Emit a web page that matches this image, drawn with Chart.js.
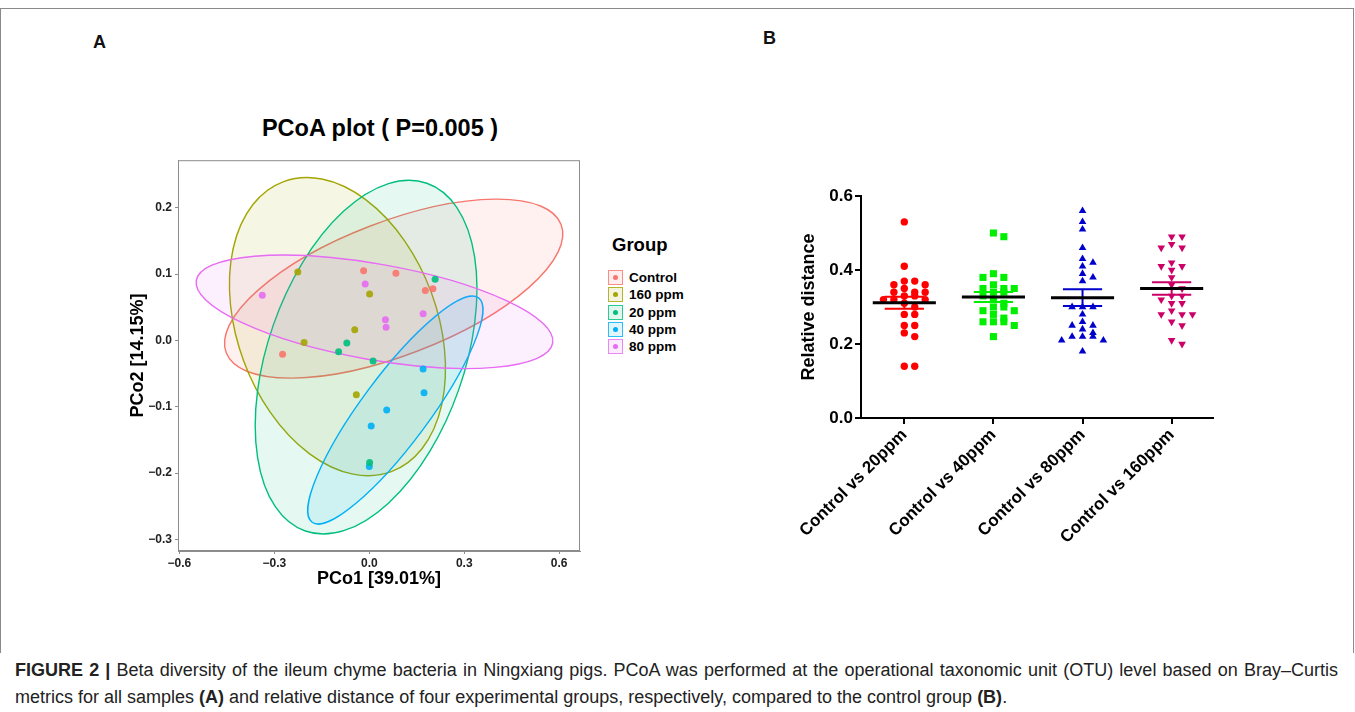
<!DOCTYPE html>
<html lang="en">
<head>
<meta charset="UTF-8">
<title>Figure 2 - Beta diversity</title>
<script src="https://cdn.jsdelivr.net/npm/chart.js"></script>
<style>
    body {
        margin: 0;
        width: 1355px;
        height: 712px;
        background: #fff;
        font-family: 'Liberation Sans', Arial, sans-serif;
        position: relative;
        overflow: hidden;
        color: #111;
    }
    .frame {
        position: absolute;
        left: 0;
        top: 8px;
        width: 1352px;
        height: 644px;
        border: 1px solid #8a8a8a;
        border-bottom: none;
    }
    .panel-label { position: absolute; font-weight: bold; font-size: 18px; }
    #pcoaChart { position: absolute; left: 120px; top: 150px; }
    #distanceChart { position: absolute; left: 770px; top: 180px; }
    .pcoa-title {
        position: absolute;
        left: 230px;
        width: 300px;
        top: 115px;
        text-align: center;
        font-weight: bold;
        font-size: 23.5px;
        line-height: 26px;
        color: #000;
    }
    .legend { position: absolute; left: 608px; top: 234px; }
    .legend-title { font-weight: bold; font-size: 18.5px; margin-left: 4px; margin-bottom: 13px; color: #000; }
    .legend-row { display: flex; align-items: center; height: 17.3px; font-weight: bold; font-size: 13.5px; color: #000; }
    .legend-key {
        width: 13px; height: 13px; margin-right: 6px; position: relative;
        border: 1.5px solid; box-sizing: content-box;
    }
    .legend-key i {
        position: absolute; left: 4px; top: 4px; width: 5px; height: 5px; border-radius: 50%;
    }
    .caption {
        position: absolute;
        left: 15px;
        top: 657px;
        width: 1323px;
        font-size: 18px;
        line-height: 27px;
        color: #222;
        white-space: nowrap;
    }
    .caption .justified { text-align: justify; text-align-last: justify; white-space: normal; }
</style>
</head>
<body>
    <div class="frame"></div>
    <div class="panel-label" style="left:93px; top:32px;">A</div>
    <div class="panel-label" style="left:763px; top:28px;">B</div>

    <div class="pcoa-title">PCoA plot ( P=0.005 )</div>
    <canvas id="pcoaChart" width="470" height="442"></canvas>
    <div class="legend" id="pcoaLegend"></div>

    <canvas id="distanceChart" width="460" height="380"></canvas>

    <div class="caption">
        <div class="justified"><b>FIGURE 2 |</b> Beta diversity of the ileum chyme bacteria in Ningxiang pigs. PCoA was performed at the operational taxonomic unit (OTU) level based on Bray–Curtis</div>
        <div>metrics for all samples <b>(A)</b> and relative distance of four experimental groups, respectively, compared to the control group <b>(B)</b>.</div>
    </div>

<script>
    // ---- panel A: PCoA ----
    const pcoaGroups = ['Control', '160 ppm', '20 ppm', '40 ppm', '80 ppm'];
    const pco1Control = [-0.018, 0.084, 0.177, 0.201, -0.274];
    const pco2Control = [0.105, 0.101, 0.075, 0.078, -0.021];
    const pco1Ppm160 = [-0.226, 0.001, -0.046, -0.206, -0.041];
    const pco2Ppm160 = [0.103, 0.070, 0.016, -0.003, -0.082];
    const pco1Ppm20 = [0.208, -0.071, -0.097, 0.012, 0.001];
    const pco2Ppm20 = [0.092, -0.004, -0.017, -0.031, -0.184];
    const pco1Ppm40 = [0.170, 0.173, 0.055, 0.006, 0.000];
    const pco2Ppm40 = [-0.043, -0.079, -0.105, -0.129, -0.190];
    const pco1Ppm80 = [-0.338, -0.013, 0.051, 0.053, 0.170];
    const pco2Ppm80 = [0.068, 0.085, 0.031, 0.020, 0.040];

    // confidence ellipses: centre and two conjugate semi-axes, in PCo units
    const ellipseCentre = [[0.077, 0.078], [-0.1006, 0.0208], [-0.0101, -0.0252], [0.0823, -0.105], [0.0164, 0.0431]];
    const ellipseAxisA = [[0.529, 0.0967], [0.170, -0.2185], [0.192, 0.262], [0.263, 0.169], [0.563, -0.0473]];
    const ellipseAxisB = [[0.0757, -0.094], [0.296, 0.0521], [0.293, -0.0486], [0.0858, -0.0302], [-0.0263, -0.0711]];

    const pcoaXTicks = [-0.6, -0.3, 0, 0.3, 0.6];
    const pcoaYTicks = [-0.3, -0.2, -0.1, 0, 0.1, 0.2];

    // ---- panel B: relative distance ----
    const distanceCategories = ['Control vs 20ppm', 'Control vs 40ppm', 'Control vs 80ppm', 'Control vs 160ppm'];
    const distVs20 = [0.53, 0.41, 0.37, 0.37, 0.36, 0.36, 0.35, 0.34, 0.34, 0.34, 0.33, 0.33, 0.32, 0.32, 0.32, 0.31, 0.30, 0.28, 0.28, 0.25, 0.25, 0.23, 0.22, 0.14, 0.14];
    const distVs40 = [0.50, 0.49, 0.39, 0.38, 0.38, 0.36, 0.35, 0.35, 0.35, 0.34, 0.34, 0.33, 0.32, 0.31, 0.30, 0.30, 0.29, 0.29, 0.28, 0.27, 0.26, 0.26, 0.26, 0.25, 0.22];
    const distVs80 = [0.56, 0.53, 0.51, 0.46, 0.43, 0.42, 0.41, 0.39, 0.38, 0.37, 0.30, 0.30, 0.30, 0.28, 0.26, 0.25, 0.25, 0.24, 0.23, 0.22, 0.22, 0.22, 0.21, 0.21, 0.18];
    const distVs160 = [0.49, 0.49, 0.47, 0.46, 0.46, 0.42, 0.41, 0.41, 0.40, 0.38, 0.36, 0.35, 0.33, 0.33, 0.32, 0.31, 0.31, 0.29, 0.28, 0.28, 0.28, 0.26, 0.25, 0.21, 0.20];
    const distanceYTicks = [0, 0.2, 0.4, 0.6];

    const pcoaColours = ['#F8766D', '#A3A500', '#00BF7D', '#00B0F6', '#E76BF3'];
    const distanceColours = ['#FF0000', '#00EE00', '#0000CC', '#CC0066'];
    const distanceShapes = ['circle', 'rect', 'triangle', 'triangle'];

    Chart.defaults.font.family = "'Liberation Sans', Arial, sans-serif";
    Chart.defaults.color = '#000';

    function alpha(hex, a) {
        const n = parseInt(hex.slice(1), 16);
        return `rgba(${n >> 16}, ${(n >> 8) & 255}, ${n & 255}, ${a})`;
    }
    function fmtMinus(v) {
        return v.toFixed(1).replace('-', '\u2212');
    }

    const pcoaX = [pco1Control, pco1Ppm160, pco1Ppm20, pco1Ppm40, pco1Ppm80];
    const pcoaY = [pco2Control, pco2Ppm160, pco2Ppm20, pco2Ppm40, pco2Ppm80];

    const ellipsePlugin = {
        id: 'ellipses',
        beforeDatasetsDraw(chart) {
            const { ctx, scales: { x, y } } = chart;
            ctx.save();
            ellipseCentre.forEach((c, i) => {
                const cx = x.getPixelForValue(c[0]);
                const cy = y.getPixelForValue(c[1]);
                const a = ellipseAxisA[i], b = ellipseAxisB[i];
                const ax = x.getPixelForValue(c[0] + a[0]) - cx;
                const ay = y.getPixelForValue(c[1] + a[1]) - cy;
                const bx = x.getPixelForValue(c[0] + b[0]) - cx;
                const by = y.getPixelForValue(c[1] + b[1]) - cy;
                ctx.beginPath();
                ctx.save();
                ctx.transform(ax, ay, bx, by, cx, cy);
                ctx.arc(0, 0, 1, 0, Math.PI * 2);
                ctx.restore();
                ctx.fillStyle = alpha(pcoaColours[i], 0.1);
                ctx.fill();
                ctx.strokeStyle = pcoaColours[i];
                ctx.lineWidth = 1.4;
                ctx.stroke();
            });
            ctx.restore();
        },
        afterDraw(chart) {
            // panel border like ggplot
            const { ctx, chartArea: a } = chart;
            ctx.save();
            ctx.strokeStyle = '#8c8c8c';
            ctx.lineWidth = 1;
            ctx.strokeRect(a.left + 0.5, a.top + 0.5, a.right - a.left - 1, a.bottom - a.top - 1);
            ctx.restore();
        }
    };

    new Chart(document.getElementById('pcoaChart'), {
        type: 'scatter',
        data: {
            datasets: pcoaGroups.map((g, i) => ({
                label: g,
                data: pcoaX[i].map((v, k) => ({ x: v, y: pcoaY[i][k] })),
                backgroundColor: alpha(pcoaColours[i], 0.9),
                borderWidth: 0,
                pointRadius: 3.5
            }))
        },
        options: {
            responsive: false,
            animation: false,
            layout: { padding: { top: 10, right: 10, left: 0, bottom: 0 } },
            plugins: { legend: { display: false }, tooltip: { enabled: false } },
            scales: {
                x: {
                    min: -0.6044, max: 0.6657,
                    afterBuildTicks: s => { s.ticks = pcoaXTicks.map(v => ({ value: v })); },
                    afterFit: s => { s.height = 41; },
                    grid: { drawOnChartArea: false, tickLength: 3, color: '#8c8c8c' },
                    border: { color: '#8c8c8c' },
                    ticks: { padding: 2, color: '#222', font: { size: 12, weight: 'bold' }, callback: v => fmtMinus(v) },
                    title: { display: true, text: 'PCo1 [39.01%]', font: { size: 18, weight: 'bold' }, padding: { top: 0, bottom: 2 } }
                },
                y: {
                    min: -0.3173, max: 0.2715,
                    afterBuildTicks: s => { s.ticks = pcoaYTicks.map(v => ({ value: v })); },
                    afterFit: s => { s.width = 58; },
                    grid: { drawOnChartArea: false, tickLength: 3, color: '#8c8c8c' },
                    border: { color: '#8c8c8c' },
                    ticks: { padding: 3, color: '#222', font: { size: 12, weight: 'bold' }, callback: v => fmtMinus(v) },
                    title: { display: true, text: 'PCo2 [14.15%]', font: { size: 18, weight: 'bold' }, padding: { top: 7, bottom: 0 } }
                }
            }
        },
        plugins: [ellipsePlugin]
    });

    // legend for panel A
    const legendBox = document.getElementById('pcoaLegend');
    legendBox.innerHTML = '<div class="legend-title">Group</div>' + pcoaGroups.map((g, i) =>
        `<div class="legend-row"><span class="legend-key" style="border-color:${alpha(pcoaColours[i], 0.8)};background:${alpha(pcoaColours[i], 0.12)}"><i style="background:${pcoaColours[i]}"></i></span>${g}</div>`
    ).join('');

    // ---- panel B ----
    const distanceGroups = [distVs20, distVs40, distVs80, distVs160];

    // spread equal-ish values sideways like a column scatter
    function columnOffsets(values) {
        const order = values.map((v, k) => k).sort((p, q) => values[q] - values[p]);
        const offsets = new Array(values.length).fill(0);
        const pattern = [0, 1, -1, 2, -2, 3, -3];
        let rowTop = null, n = 0;
        order.forEach(k => {
            if (rowTop === null || rowTop - values[k] > 0.015) { rowTop = values[k]; n = 0; }
            offsets[k] = pattern[n++] * 0.117;
        });
        return offsets;
    }
    function mean(a) { return a.reduce((s, v) => s + v, 0) / a.length; }
    function sem(a) {
        const m = mean(a);
        const sd = Math.sqrt(a.reduce((s, v) => s + (v - m) ** 2, 0) / (a.length - 1));
        return sd / Math.sqrt(a.length);
    }

    const meanSemPlugin = {
        id: 'meanSem',
        afterDatasetsDraw(chart) {
            const { ctx, scales: { x, y } } = chart;
            const seg = (x1, y1, x2, y2) => { ctx.beginPath(); ctx.moveTo(x1, y1); ctx.lineTo(x2, y2); ctx.stroke(); };
            ctx.save();
            distanceGroups.forEach((vals, i) => {
                const m = mean(vals), s = sem(vals);
                ctx.strokeStyle = distanceColours[i];
                ctx.lineWidth = 2;
                seg(x.getPixelForValue(i - 0.22), y.getPixelForValue(m + s), x.getPixelForValue(i + 0.22), y.getPixelForValue(m + s));
                seg(x.getPixelForValue(i - 0.22), y.getPixelForValue(m - s), x.getPixelForValue(i + 0.22), y.getPixelForValue(m - s));
                seg(x.getPixelForValue(i), y.getPixelForValue(m + s), x.getPixelForValue(i), y.getPixelForValue(m - s));
                ctx.strokeStyle = '#000';
                ctx.lineWidth = 3;
                seg(x.getPixelForValue(i - 0.354), y.getPixelForValue(m), x.getPixelForValue(i + 0.354), y.getPixelForValue(m));
            });
            ctx.restore();
        }
    };

    new Chart(document.getElementById('distanceChart'), {
        type: 'scatter',
        data: {
            datasets: distanceGroups.map((vals, i) => {
                const off = columnOffsets(vals);
                return {
                    label: distanceCategories[i],
                    data: vals.map((v, k) => ({ x: i + off[k], y: v })),
                    backgroundColor: distanceColours[i],
                    borderWidth: 0,
                    pointStyle: distanceShapes[i],
                    rotation: i === 3 ? 180 : 0,
                    pointRadius: i === 0 ? 3.7 : (i === 1 ? 5 : 4.4)
                };
            })
        },
        options: {
            responsive: false,
            animation: false,
            layout: { padding: { top: 16, right: 17, left: 0, bottom: 0 } },
            plugins: { legend: { display: false }, tooltip: { enabled: false } },
            scales: {
                x: {
                    min: -0.486, max: 3.464,
                    afterBuildTicks: s => { s.ticks = distanceCategories.map((c, i) => ({ value: i })); },
                    afterFit: s => { s.height = 142; },
                    grid: { drawOnChartArea: false, tickLength: 6, color: '#000', lineWidth: 2 },
                    border: { color: '#000', width: 2 },
                    ticks: {
                        autoSkip: false, maxRotation: 45, minRotation: 45, padding: 1,
                        font: { size: 17, weight: 'bold' },
                        callback: v => distanceCategories[v]
                    }
                },
                y: {
                    min: 0, max: 0.6,
                    afterBuildTicks: s => { s.ticks = distanceYTicks.map(v => ({ value: v })); },
                    afterFit: s => { s.width = 91; },
                    grid: { drawOnChartArea: false, tickLength: 6, color: '#000', lineWidth: 2 },
                    border: { color: '#000', width: 2 },
                    ticks: { padding: 2, font: { size: 17, weight: 'bold' }, callback: v => v.toFixed(1) },
                    title: { display: true, text: 'Relative distance', font: { size: 18, weight: 'bold' }, padding: { top: 28, bottom: 0 } }
                }
            }
        },
        plugins: [meanSemPlugin]
    });
</script>
</body>
</html>
